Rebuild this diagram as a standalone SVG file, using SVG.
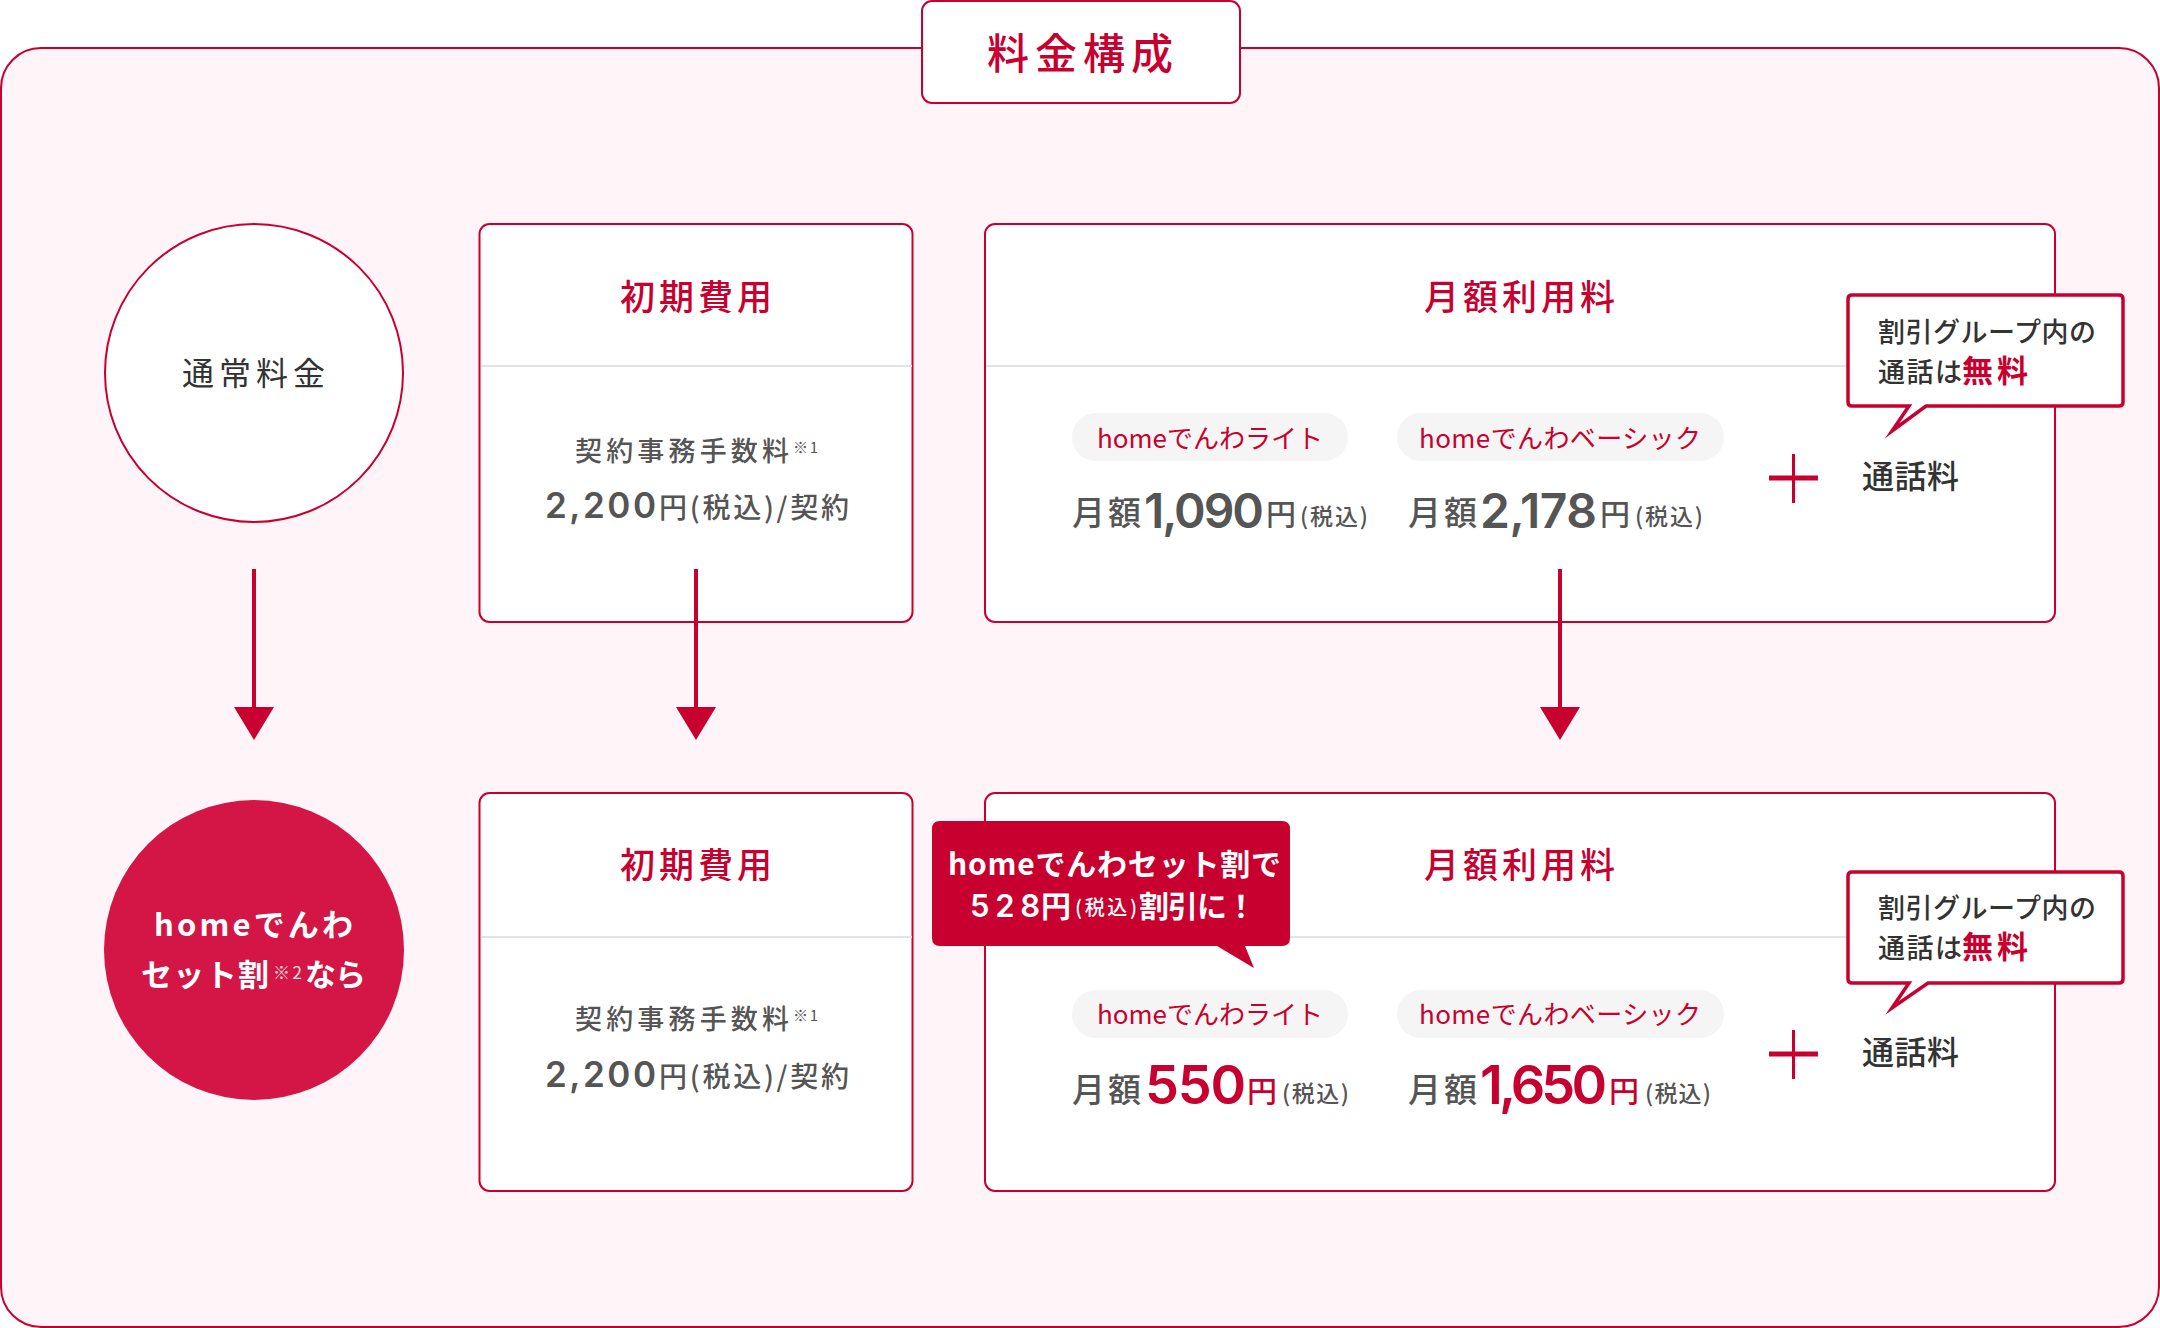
<svg xmlns="http://www.w3.org/2000/svg" width="2160" height="1328" viewBox="0 0 2160 1328">
<style>
text{font-family:"Noto Sans CJK JP","Noto Sans",sans-serif;fill:#333;font-weight:400}
.r{fill:#c8002f}
.w{fill:#fff}
.m{font-weight:500}
.b{font-weight:700}
.g{fill:#555}
.n{font-family:Inter,"Noto Sans CJK JP",sans-serif;font-weight:600}
.card{fill:#fff;stroke:#c8002f;stroke-width:2}
.div{stroke:#e3e3e3;stroke-width:2}
.pill{fill:#f5f5f5}
.call{fill:#fff;stroke:#c8002f;stroke-width:3.5;stroke-miterlimit:12}
.plus{stroke:#c8002f;fill:none}
.arrow{stroke:#c8002f;stroke-width:4;fill:none;marker-end:url(#head)}
</style>
<defs>
<marker id="head" markerUnits="userSpaceOnUse" markerWidth="34" markerHeight="42" refX="0" refY="21" orient="auto">
<path d="M0 1L33 21L0 41z" fill="#c8002f"/>
</marker>
</defs>
<g id="panel"><rect x="1" y="48" width="2158" height="1279" rx="40" fill="#fff4f8" stroke="#c8002f" stroke-width="2"/></g>
<g id="title"><rect x="922" y="1" width="318" height="102" rx="10" fill="#fff" stroke="#c8002f" stroke-width="2"/>
<text class="r m" x="987" y="69" font-size="42" textLength="186">料金構成</text></g>

<g id="normal"><circle cx="254" cy="373" r="149" fill="#fff" stroke="#c8002f" stroke-width="2"/>
<text x="182" y="385" font-size="32" textLength="143">通常料金</text></g>

<g id="initial-normal"><rect class="card" x="479.5" y="224" width="433" height="398" rx="10"/>
<line class="div" x1="481" y1="366" x2="912" y2="366"/>
<text class="r m" x="620" y="310" font-size="35" textLength="152">初期費用</text>
<text class="g m" x="575" y="461" font-size="27" textLength="214">契約事務手数料</text>
<text class="g" x="793" y="453" font-size="15" textLength="25">※1</text>
<text class="g n" x="545" y="518" font-size="35" textLength="111">2,200</text>
<text class="g m" x="659" y="518" font-size="28" textLength="190">円(税込)/契約</text></g>

<g id="monthly-normal"><rect class="card" x="985" y="224" width="1070" height="398" rx="10"/>
<line class="div" x1="986" y1="366" x2="2054" y2="366"/>
<text class="r m" x="1424" y="310" font-size="35" textLength="191">月額利用料</text>
<rect class="pill" x="1072" y="413" width="276" height="48" rx="24"/>
<rect class="pill" x="1397" y="413" width="327" height="48" rx="24"/>
<text class="r" x="1097" y="448" font-size="26" textLength="226">homeでんわライト</text>
<text class="r" x="1419" y="448" font-size="26" textLength="282">homeでんわベーシック</text>
<text class="g m" x="1072" y="525" font-size="33" textLength="69">月額</text>
<text class="g n" x="1144" y="528" font-size="48" textLength="120">1,090</text>
<text class="g m" x="1266" y="525" font-size="30" textLength="31">円</text>
<text class="g m" x="1300" y="525" font-size="23" textLength="68">(税込)</text>
<text class="g m" x="1408" y="525" font-size="33" textLength="69">月額</text>
<text class="g n" x="1480" y="528" font-size="48" textLength="117">2,178</text>
<text class="g m" x="1600" y="525" font-size="30" textLength="31">円</text>
<text class="g m" x="1635" y="525" font-size="23" textLength="68">(税込)</text>
<path class="plus" stroke-width="5" d="M1769 478H1818"/><path class="plus" stroke-width="3" d="M1793.5 454V503"/>
<text class="m" x="1862" y="488" font-size="32" textLength="97">通話料</text>
<path class="call" d="M1852 295H2119Q2123 295 2123 299V402Q2123 406 2119 406H1926L1892 431L1909 406H1852Q1848 406 1848 402V299Q1848 295 1852 295Z"/>
<text class="m" x="1878" y="342" font-size="27" textLength="218">割引グループ内の</text>
<text class="m" x="1878" y="382" font-size="27" textLength="84">通話は</text>
<text class="r b" x="1962" y="382" font-size="31" textLength="66">無料</text></g>

<g id="connectors">
<line class="arrow" x1="254" y1="569" x2="254" y2="707"/>
<line class="arrow" x1="696" y1="569" x2="696" y2="707"/>
<line class="arrow" x1="1560" y1="569" x2="1560" y2="707"/>
</g>

<g id="discount"><circle cx="254" cy="950" r="150" fill="#d31645"/>
<text class="w b" x="154" y="936" font-size="31" textLength="199">homeでんわ</text>
<text class="w b" x="141" y="986" font-size="31" textLength="128">セット割</text>
<text class="w" x="273" y="979" font-size="17" textLength="29" opacity=".85">※2</text>
<text class="w b" x="305" y="986" font-size="31" textLength="61">なら</text></g>

<g id="initial-discount"><rect class="card" x="479.5" y="793" width="433" height="398" rx="10"/>
<line class="div" x1="481" y1="937" x2="912" y2="937"/>
<text class="r m" x="620" y="878" font-size="35" textLength="152">初期費用</text>
<text class="g m" x="575" y="1029" font-size="27" textLength="214">契約事務手数料</text>
<text class="g" x="793" y="1021" font-size="15" textLength="25">※1</text>
<text class="g n" x="545" y="1087" font-size="35" textLength="111">2,200</text>
<text class="g m" x="659" y="1087" font-size="28" textLength="190">円(税込)/契約</text></g>

<g id="monthly-discount"><rect class="card" x="985" y="793" width="1070" height="398" rx="10"/>
<line class="div" x1="986" y1="937" x2="2054" y2="937"/>
<text class="r m" x="1424" y="878" font-size="35" textLength="191">月額利用料</text>
<rect class="pill" x="1072" y="990" width="276" height="48" rx="24"/>
<rect class="pill" x="1397" y="990" width="327" height="48" rx="24"/>
<text class="r" x="1097" y="1024" font-size="26" textLength="226">homeでんわライト</text>
<text class="r" x="1419" y="1024" font-size="26" textLength="282">homeでんわベーシック</text>
<text class="g m" x="1072" y="1102" font-size="33" textLength="69">月額</text>
<text class="r n" x="1145" y="1104" font-size="54" textLength="101">550</text>
<text class="r m" x="1247" y="1102" font-size="30" textLength="29">円</text>
<text class="g m" x="1282" y="1102" font-size="23" textLength="67">(税込)</text>
<text class="g m" x="1408" y="1102" font-size="33" textLength="69">月額</text>
<text class="r n" x="1480" y="1104" font-size="54" textLength="127">1,650</text>
<text class="r m" x="1609" y="1102" font-size="30" textLength="29">円</text>
<text class="g m" x="1645" y="1102" font-size="23" textLength="66">(税込)</text>
<path class="plus" stroke-width="5" d="M1769 1054H1818"/><path class="plus" stroke-width="3" d="M1793.5 1030V1079"/>
<text class="m" x="1862" y="1064" font-size="32" textLength="97">通話料</text>
<path class="call" d="M1852 872H2119Q2123 872 2123 876V979Q2123 983 2119 983H1928L1892 1008L1909 983H1852Q1848 983 1848 979V876Q1848 872 1852 872Z"/>
<text class="m" x="1878" y="918" font-size="27" textLength="218">割引グループ内の</text>
<text class="m" x="1878" y="958" font-size="27" textLength="84">通話は</text>
<text class="r b" x="1962" y="958" font-size="31" textLength="66">無料</text></g>

<g id="discount-callout"><path d="M940 821H1282Q1290 821 1290 829V938Q1290 946 1282 946H1245L1254 968L1217 946H940Q932 946 932 938V829Q932 821 940 821Z" fill="#c8002f"/>
<text class="w b" x="948" y="875" font-size="30" textLength="333">homeでんわセット割で</text>
<text class="w n" x="970" y="917" font-size="31" textLength="70">528</text>
<text class="w b" x="1041" y="917" font-size="30" textLength="32">円</text>
<text class="w m" x="1075" y="915" font-size="20" textLength="62">(税込)</text>
<text class="w b" x="1139" y="917" font-size="30" textLength="117">割引に！</text></g>
</svg>
